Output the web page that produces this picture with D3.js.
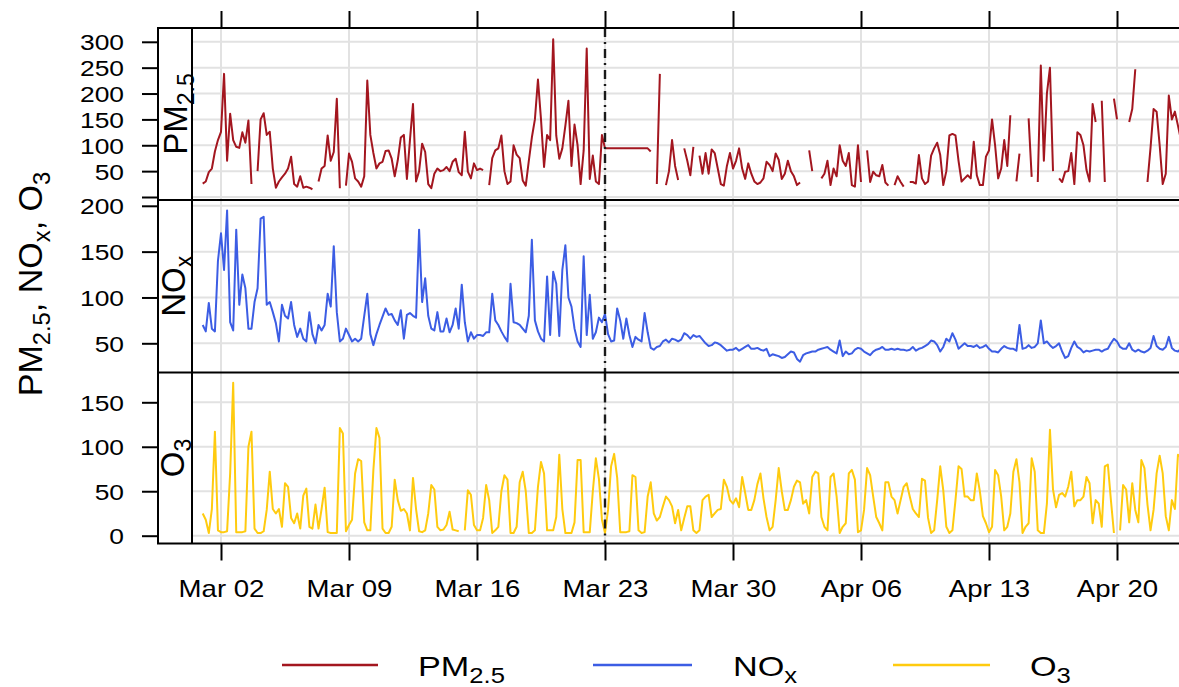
<!DOCTYPE html>
<html><head><meta charset="utf-8">
<script src="https://cdn.jsdelivr.net/npm/d3@7"></script>
<style>
html,body{margin:0;padding:0;background:#fff;}
svg text{font-family:"Liberation Sans",Arial,Helvetica,sans-serif;fill:#000;}
</style></head><body>
<svg id="chart" width="1179" height="687"></svg>
<script>
// ---------------- data ----------------
const startTime = new Date(2020, 2, 1, 0, 0); // first reading, Mar 1 2020 00:00
const stepHours = 4;                           // one value every 4 hours
const xTickDates = [[2020,2,2],[2020,2,9],[2020,2,16],[2020,2,23],[2020,2,30],[2020,3,6],[2020,3,13],[2020,3,20]];
const lockdownDate = [2020, 2, 23];
const pm25Ticks = [0, 50, 100, 150, 200, 250, 300];
const noxTicks = [50, 100, 150, 200];
const o3Ticks = [0, 50, 100, 150];
const seriesLabels = [["PM", "2.5"], ["NO", "x"], ["O", "3"]];

// PM2.5, one row per day (00,04,08,12,16,20 h)
const pm25Days = [
 [26,30,48,55,88,110],[126,238,70,161,110,97],[95,125,105,148,25,null],[50,150,162,120,126,55],
 [18,30,38,45,55,78],[25,20,40,18,20,18],[15,null,30,55,60,119],[70,87,190,17,null,22],
 [84,68,36,30,20,40],[225,120,85,55,65,68],[89,90,74,40,71,115],[120,35,110,180,30,50],
 [103,87,25,17,45,55],[50,52,58,50,68,74],[48,42,126,49,36,65],[52,55,52,null,23,75],
 [90,94,119,50,25,30],[100,82,75,32,22,70],[115,150,227,150,58,120],[110,305,119,74,94,138],
 [186,60,140,100,25,90],[287,35,80,30,25,120],[94,94,94,94,94,94],[94,94,94,94,94,94],
 [94,94,94,88,null,25],[238,null,23,50,110,60],[33,null,94,70,42,97],[null,80,45,85,45,92],
 [85,55,25,22,60,85],[55,70,94,55,35,65],[45,30,25,28,36,68],
 [62,50,84,72,35,45],[70,50,40,23,28,null],[null,90,50,null,null,36],[45,70,23,55,40,100],
 [70,60,85,23,20,100],[29,null,90,29,49,42],[40,62,28,22,null,23],[40,29,20,null,29,29],
 [26,81,36,25,30,80],[94,105,81,23,50,119],[122,119,70,30,36,42],[36,107,42,23,23,78],
 [90,150,100,36,55,110],[60,158,null,30,84,null],[null,152,39,null,29,254],[70,200,250,50,null,36],
 [29,49,50,85,25,125],[120,100,52,30,180,145],[null,186,29,null,null,190],[150,null,null,null,145,170],
 [247,null,null,null,29,95],[170,165,100,25,45,196],[150,165,138,110]
];
// NOx
const noxDays = [
 [70,63,94,66,63,140],[170,130,195,73,64,174],[92,125,110,66,66,95],[110,186,188,92,95,84],
 [72,52,92,80,77,95],[70,57,66,55,52,84],[60,50,70,64,70,104],[90,156,84,52,55,66],
 [59,52,55,52,55,80],[104,60,48,60,70,79],[88,81,82,75,70,86],[55,81,83,80,78,174],
 [95,121,80,66,64,84],[63,63,77,62,70,88],[66,114,73,52,62,55],[59,59,58,62,62,104],
 [75,70,63,57,52,115],[73,72,70,66,62,80],[163,75,63,55,52,123],[59,128,115,58,130,157],
 [100,90,66,52,46,145],[59,103,55,62,78,73],[82,60,52,53,88,75],[55,77,59,46,57,54],
 [52,83,62,45,43,46],[47,52,54,51,55,54],[52,54,61,59,55,59],[57,58,54,50,47,48],
 [51,50,48,45,42,43],[43,45,42,44,46,48],[44,44,45,43,42,44],
 [36,38,37,36,34,35],[38,41,40,33,30,37],[39,40,41,41,43,44],[45,46,43,41,39,53],
 [36,41,38,39,43,45],[44,41,39,37,41,43],[44,46,43,43,44,43],[44,43,43,42,43,46],
 [42,44,45,47,49,53],[52,48,41,46,55,52],[61,54,44,47,50,47],[47,46,48,45,46,48],
 [44,41,41,40,44,47],[45,44,44,42,70,44],[45,48,45,46,50,75],[50,52,48,45,47,50],
 [41,34,36,45,52,46],[44,40,42,41,42,43],[43,41,43,44,50,55],[52,46,44,44,50,43],
 [41,43,41,40,42,45],[58,47,44,43,46,57],[45,42,41,44]
];
// O3
const o3Days = [
 [25,18,3,30,117,6],[4,4,5,70,172,4],[4,4,5,100,117,8],[3,3,5,29,72,30],
 [25,30,10,59,55,20],[14,25,8,45,53,10],[8,35,8,30,54,4],[3,3,3,121,115,5],
 [12,18,70,86,84,15],[6,6,74,121,110,8],[3,3,10,63,40,28],[30,25,6,65,30,5],
 [4,6,25,57,52,10],[6,7,12,27,7,6],[5,null,6,51,46,12],[6,6,20,57,40,3],
 [6,10,50,68,63,3],[3,10,60,72,50,3],[3,6,55,83,70,6],[6,6,21,91,30,3],
 [3,3,15,85,85,4],[4,4,50,87,64,18],[3,29,78,92,65,4],[4,4,5,68,66,6],
 [3,4,44,60,25,17],[21,33,44,40,33,14],[29,6,20,33,33,6],[3,6,40,44,46,21],
 [25,29,30,63,55,40],[36,42,32,66,48,29],[29,40,58,70,42,21],
 [6,10,40,76,50,29],[29,40,55,62,60,36],[40,25,66,72,70,21],[10,6,66,70,44,3],
 [10,14,70,74,63,4],[6,29,76,68,44,21],[14,6,60,60,44,40],[25,40,55,59,44,30],
 [25,21,64,62,20,3],[6,40,78,51,10,3],[6,40,78,75,44,44],[40,40,70,50,22,14],
 [4,10,74,68,44,6],[10,25,72,86,60,3],[10,14,87,72,6,3],[3,36,119,52,32,46],
 [48,44,55,72,33,40],[40,44,66,59,14,40],[36,10,78,80,40,3],[null,6,57,52,15,59],
 [29,15,85,76,35,6],[29,70,90,70,22,6],[40,30,91,88]
];

// ---------------- layout ----------------
const W = 1179, H = 687;
const stripLeft = 158, plotLeft = 192, plotRight = 1190;
const fontTick = 22, hStretch = 1.2;
const colors = {pm25: "#A3161F", nox: "#3C5DE4", o3: "#FFCB0F"};

const toDate = a => new Date(a[0], a[1], a[2]);
const toSeries = days => days.flat().map((v, i) => ({t: d3.timeHour.offset(startTime, i * stepHours), v}));

const x = d3.scaleTime()
  .domain([toDate(xTickDates[0]), toDate(xTickDates[7])])
  .range([221, 1117]);

const panels = [
  {key: "pm25", top: 28, bottom: 200, data: toSeries(pm25Days), ticks: pm25Ticks,
   y: d3.scaleLinear().domain([0, 300]).range([197, 41.8]), hideLabel: [0], strip: seriesLabels[0], stripBase: 187},
  {key: "nox", top: 200, bottom: 372.5, data: toSeries(noxDays), ticks: noxTicks,
   y: d3.scaleLinear().domain([50, 200]).range([343.3, 205.8]), hideLabel: [], strip: seriesLabels[1], stripBase: 185},
  {key: "o3", top: 372.5, bottom: 543.5, data: toSeries(o3Days), ticks: o3Ticks,
   y: d3.scaleLinear().domain([0, 150]).range([535.7, 402.3]), hideLabel: [], strip: seriesLabels[2], stripBase: 184}
];

const svg = d3.select("#chart");
svg.append("rect").attr("width", W).attr("height", H).attr("fill", "#fff");
const defs = svg.append("defs");

function addSub(textSel, parts, subScale) {
  textSel.append("tspan").text(parts[0]);
  textSel.append("tspan").attr("font-size", (subScale * 100) + "%").attr("dy", "0.32em").text(parts[1]);
}

panels.forEach((p, i) => {
  const clipId = "clip" + i;
  defs.append("clipPath").attr("id", clipId).append("rect")
    .attr("x", plotLeft).attr("y", p.top).attr("width", plotRight - plotLeft).attr("height", p.bottom - p.top);
  const g = svg.append("g").attr("clip-path", `url(#${clipId})`);
  // grid
  g.selectAll("line.hg").data(p.ticks).join("line")
    .attr("x1", plotLeft).attr("x2", plotRight)
    .attr("y1", d => p.y(d)).attr("y2", d => p.y(d))
    .attr("stroke", "#e2e2e2").attr("stroke-width", 2);
  g.selectAll("line.vg").data(xTickDates).join("line")
    .attr("x1", d => x(toDate(d))).attr("x2", d => x(toDate(d)))
    .attr("y1", p.top).attr("y2", p.bottom)
    .attr("stroke", "#e2e2e2").attr("stroke-width", 2);
  // series
  const line = d3.line().defined(d => d.v !== null).x(d => x(d.t)).y(d => p.y(d.v));
  g.append("path").datum(p.data).attr("d", line)
    .attr("fill", "none").attr("stroke", colors[p.key]).attr("stroke-width", 2)
    .attr("stroke-linejoin", "round");
  // lockdown line
  g.append("line")
    .attr("x1", x(toDate(lockdownDate))).attr("x2", x(toDate(lockdownDate)))
    .attr("y1", p.top).attr("y2", p.bottom)
    .attr("stroke", "#1a1a1a").attr("stroke-width", 2.4).attr("stroke-dasharray", "9,5,2,5");
  // y axis
  const ax = svg.append("g").attr("transform", `translate(${stripLeft},0)`)
    .call(d3.axisLeft(p.y).tickValues(p.ticks).tickSize(16)
      .tickFormat(d => p.hideLabel.includes(d) ? "" : d));
  ax.select(".domain").remove();
  ax.selectAll(".tick line").attr("stroke", "#000").attr("stroke-width", 2);
  ax.selectAll(".tick text").attr("x", 0).attr("dy", "0.36em")
    .attr("font-size", fontTick).attr("font-family", "Liberation Sans, Arial, sans-serif")
    .attr("text-anchor", "end").attr("fill", "#000")
    .attr("transform", `translate(-34,0) scale(${hStretch},1)`);
  // strip label
  const st = svg.append("text").attr("font-size", 33).attr("text-anchor", "middle")
    .attr("transform", `translate(${p.stripBase},${(p.top + p.bottom) / 2}) rotate(-90)`);
  addSub(st, p.strip, 0.7);
});

// frames
const fr = svg.append("g").attr("stroke", "#000").attr("stroke-width", 2).attr("fill", "none");
fr.append("rect").attr("x", stripLeft).attr("y", 28).attr("width", plotRight + 20 - stripLeft).attr("height", 543.5 - 28);
[200, 372.5].forEach(yy => fr.append("line").attr("x1", stripLeft).attr("x2", plotRight + 20).attr("y1", yy).attr("y2", yy));
fr.append("line").attr("x1", plotLeft).attr("x2", plotLeft).attr("y1", 28).attr("y2", 543.5);

// x axes
const tickDates = xTickDates.map(toDate);
const xb = svg.append("g").attr("transform", "translate(0,543.5)")
  .call(d3.axisBottom(x).tickValues(tickDates).tickSize(17).tickFormat(d3.timeFormat("%b %d")));
xb.select(".domain").remove();
xb.selectAll(".tick line").attr("stroke", "#000").attr("stroke-width", 2);
xb.selectAll(".tick text").attr("y", 53.5).attr("dy", 0).attr("font-size", fontTick + 1)
  .attr("font-family", "Liberation Sans, Arial, sans-serif").attr("fill", "#000")
  .attr("transform", `scale(${hStretch},1)`);
const xt = svg.append("g").attr("transform", "translate(0,28)")
  .call(d3.axisTop(x).tickValues(tickDates).tickSize(17).tickFormat(""));
xt.select(".domain").remove();
xt.selectAll(".tick line").attr("stroke", "#000").attr("stroke-width", 2);

// y title
const yt = svg.append("text").attr("font-size", 34).attr("text-anchor", "middle")
  .attr("transform", "translate(42,284) rotate(-90)");
yt.append("tspan").text("PM");
yt.append("tspan").attr("font-size", "70%").attr("dy", "0.32em").text("2.5");
yt.append("tspan").attr("dy", "-0.22em").text(", NO");
yt.append("tspan").attr("font-size", "70%").attr("dy", "0.32em").text("x");
yt.append("tspan").attr("dy", "-0.22em").text(", O");
yt.append("tspan").attr("font-size", "70%").attr("dy", "0.32em").text("3");

// legend
const legendItems = [
  {key: "pm25", x0: 282, x1: 378, tx: 418, label: seriesLabels[0]},
  {key: "nox", x0: 593, x1: 692, tx: 733, label: seriesLabels[1]},
  {key: "o3", x0: 893, x1: 990, tx: 1030, label: seriesLabels[2]}
];
const lg = svg.append("g");
legendItems.forEach(it => {
  lg.append("line").attr("x1", it.x0).attr("x2", it.x1).attr("y1", 665).attr("y2", 665)
    .attr("stroke", colors[it.key]).attr("stroke-width", 2.5);
  const t = lg.append("text").attr("font-size", 28.5)
    .attr("transform", `translate(${it.tx},676) scale(${hStretch},1)`);
  addSub(t, it.label, 0.75);
});
</script>
</body></html>
